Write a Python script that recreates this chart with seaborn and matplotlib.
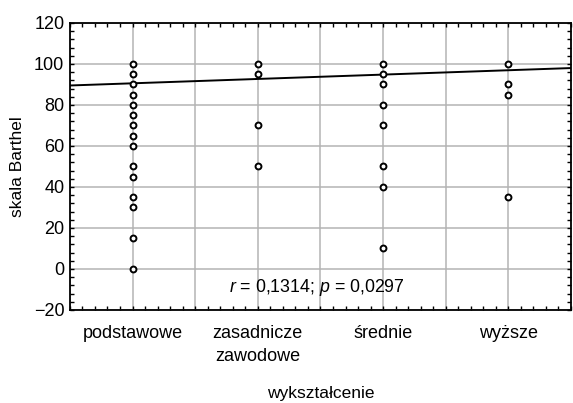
import numpy as np
import pandas as pd
import matplotlib
matplotlib.use("Agg")
import matplotlib.pyplot as plt
from matplotlib.ticker import MultipleLocator
import seaborn as sns

# ---- data ----
categories = ["podstawowe", "zasadnicze\nzawodowe", "średnie", "wyższe"]
cat_codes = [1, 2, 3, 4]
podstawowe = [100, 95, 90, 85, 80, 75, 70, 65, 60, 50, 45, 35, 30, 15, 0]
zasadnicze = [100, 95, 70, 50]
srednie = [100, 95, 90, 80, 70, 50, 40, 10]
wyzsze = [100, 90, 85, 35]
trend_x = [0.5, 4.5]
trend_y = [89.5, 98.0]
annotation = "$r$ = 0,1314; $p$ = 0,0297"

rows = []
for code, vals in zip(cat_codes, [podstawowe, zasadnicze, srednie, wyzsze]):
    for v in vals:
        rows.append({"wyksztalcenie": code, "barthel": v})
df = pd.DataFrame(rows)
trend = pd.DataFrame({"x": trend_x, "y": trend_y})

sns.set_theme(style="white")
FONT = "Liberation Sans"
plt.rcParams["font.family"] = [FONT, "DejaVu Sans"]
plt.rcParams["mathtext.fontset"] = "custom"
plt.rcParams["mathtext.it"] = FONT + ":italic"
plt.rcParams["mathtext.rm"] = FONT
plt.rcParams["text.color"] = "black"
plt.rcParams["axes.labelcolor"] = "black"

fig = plt.figure(figsize=(5.73, 4.03), dpi=100)
ax = fig.add_axes([0.122, 0.231, 0.8745, 0.712])

sns.lineplot(data=trend, x="x", y="y", ax=ax, color="black", lw=1.4, zorder=3)
sns.scatterplot(data=df, x="wyksztalcenie", y="barthel", ax=ax, marker="o",
                s=18, facecolor="white", edgecolor="black", linewidth=1.4, zorder=4)

ax.set_xlim(0.5, 4.5)
ax.set_ylim(-20, 120)

# major x ticks every 0.5 (grid), labels only at category positions
xt = np.arange(0.5, 4.51, 0.5)
ax.set_xticks(xt)
ax.set_xticklabels([categories[cat_codes.index(t)] if t in cat_codes else "" for t in xt],
                   linespacing=1.45)
ax.xaxis.set_minor_locator(MultipleLocator(0.1))
ax.yaxis.set_major_locator(MultipleLocator(20))
ax.yaxis.set_minor_locator(MultipleLocator(4))

ax.grid(True, which="major", color="#b4b4b4", lw=1.1)

ax.tick_params(which="both", direction="in", top=True, right=True, left=True, bottom=True,
               colors="black", labelsize=13)
ax.tick_params(which="major", length=3, width=1)
ax.tick_params(which="minor", length=3, width=1)
ax.tick_params(axis="x", which="major", pad=11)
ax.tick_params(axis="y", which="major", pad=4)
for sp in ax.spines.values():
    sp.set_color("black")
    sp.set_linewidth(1.3)

ax.set_xlabel("wykształcenie", fontsize=12.5, va="center")
ax.xaxis.set_label_coords(0.5, -0.293)
ax.set_ylabel("skala Barthel", fontsize=12.5, va="center")
ax.yaxis.set_label_coords(-0.104, 0.5)
ax.text(2.47, -9, annotation, ha="center", va="center", fontsize=12.8)

fig.savefig("out.png", dpi=100)
